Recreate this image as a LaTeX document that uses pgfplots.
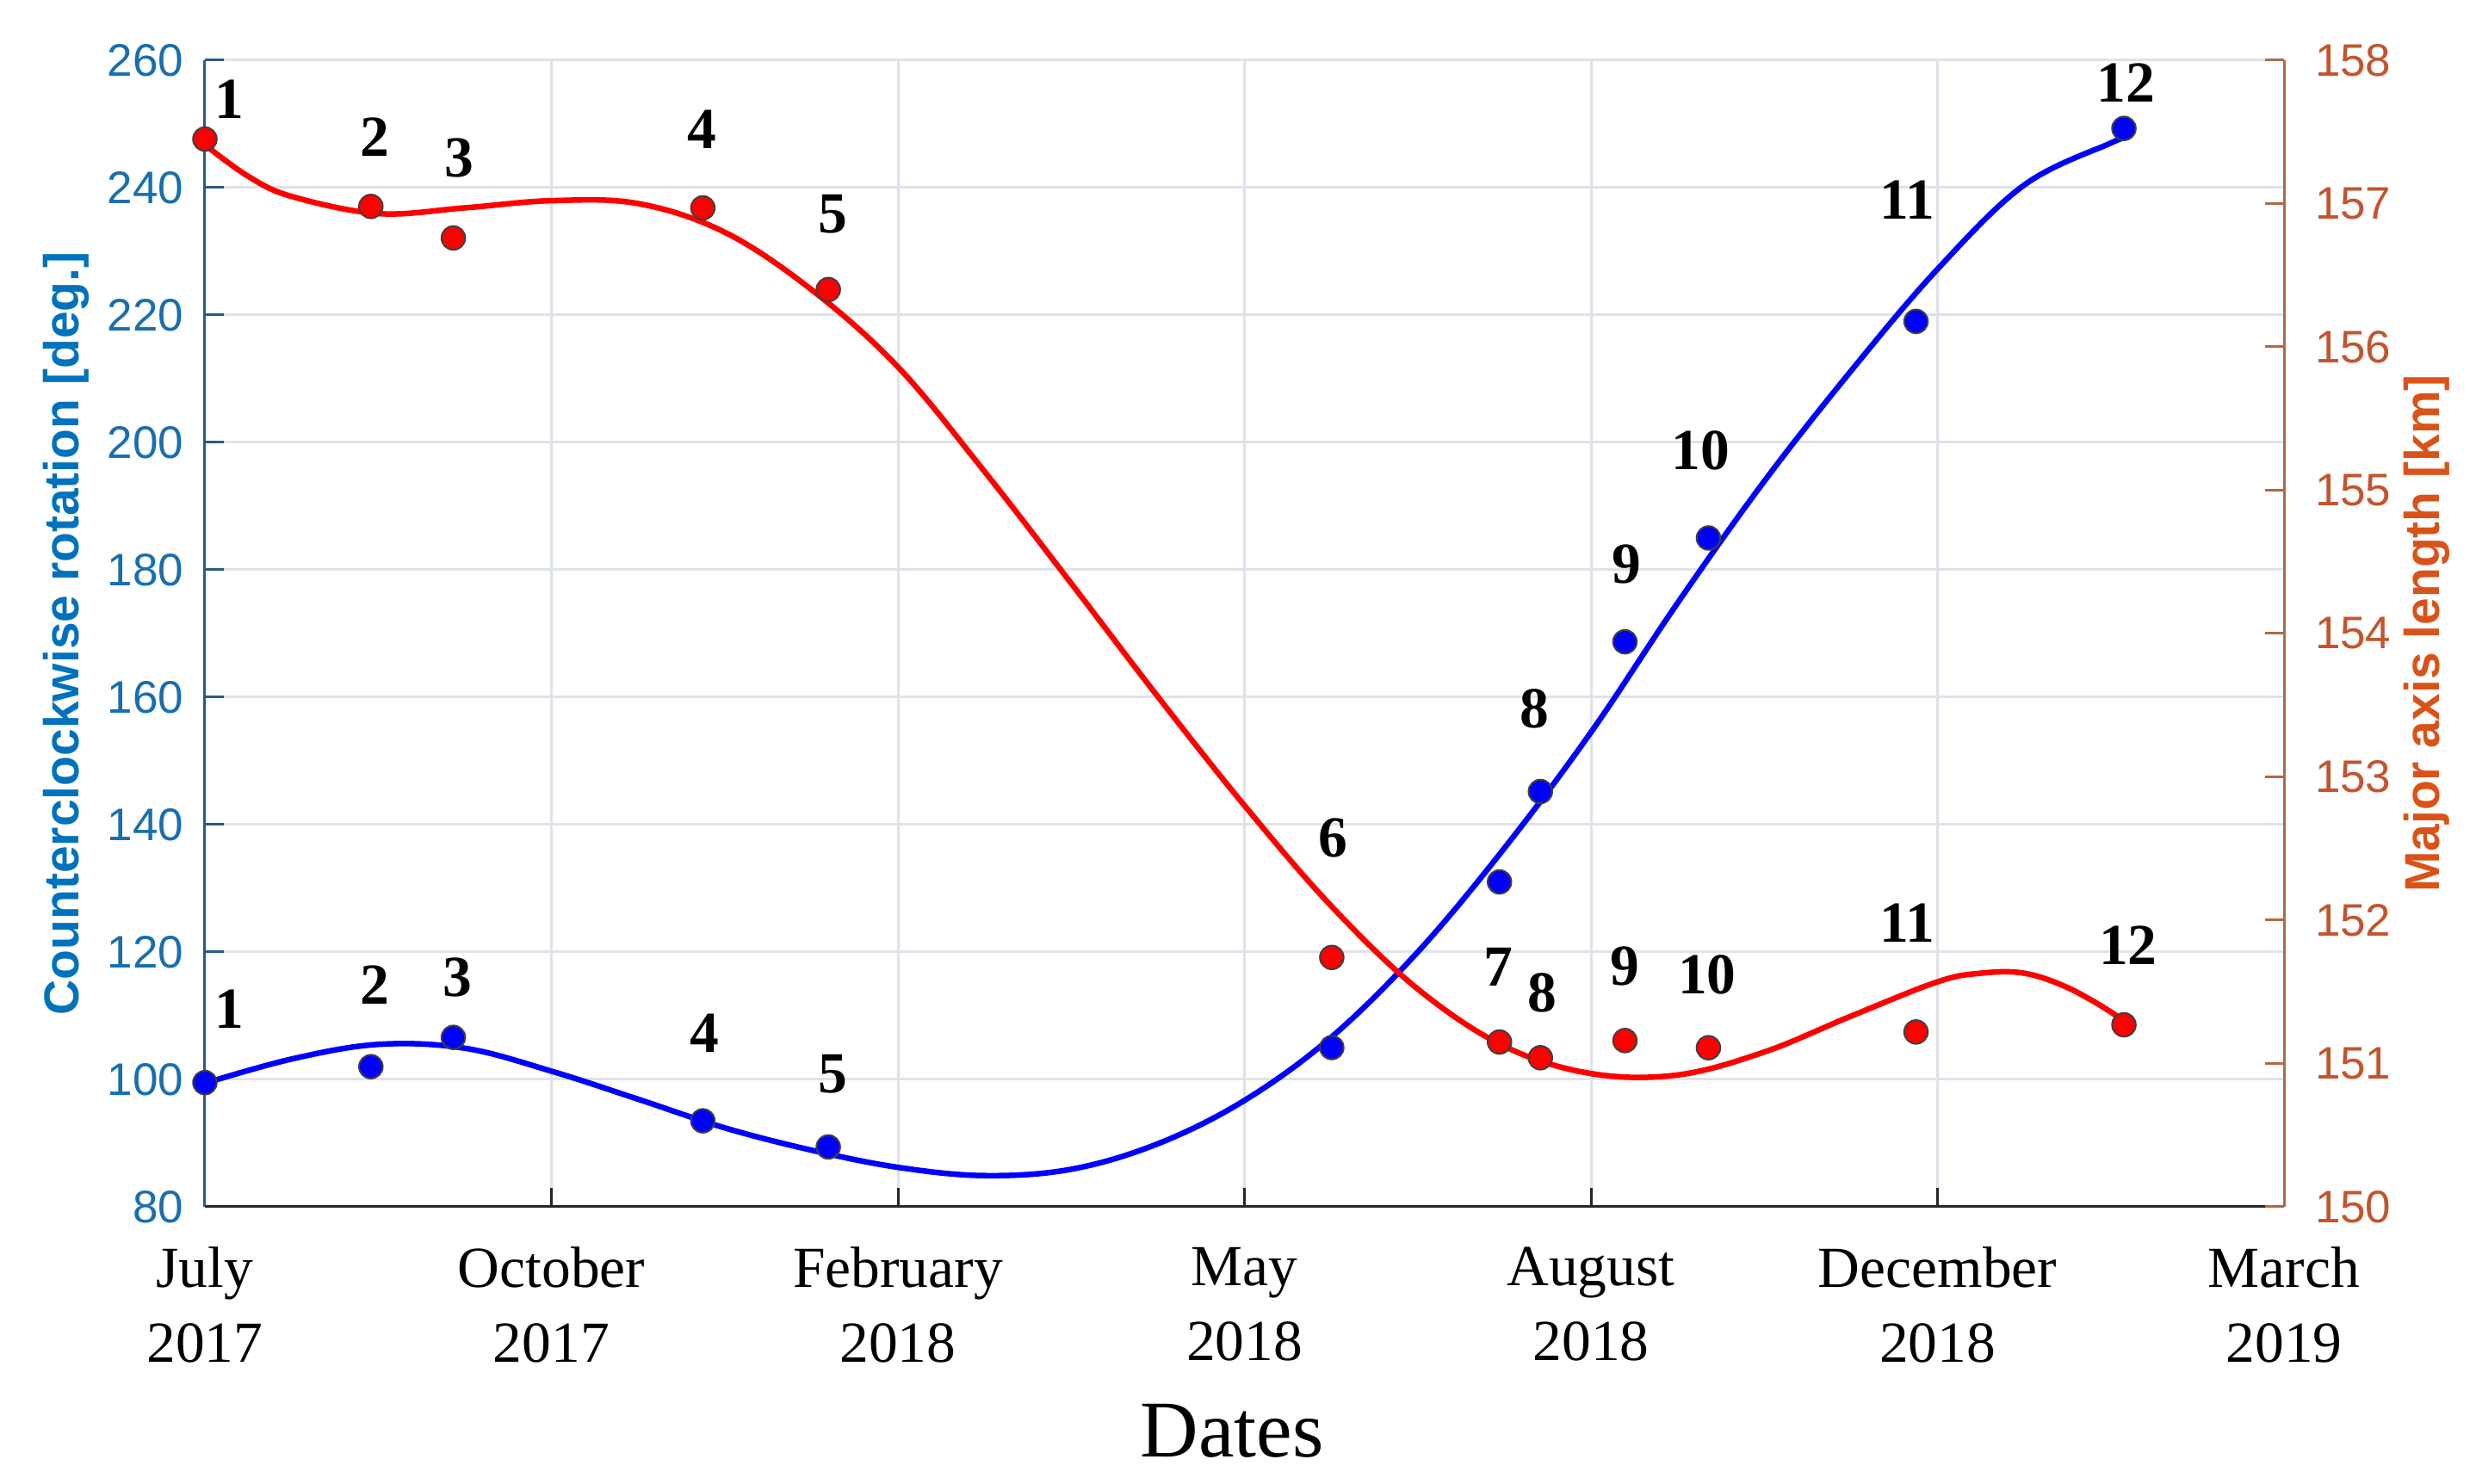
\documentclass[border=0pt]{standalone}
\usepackage{fontspec}
\setmainfont{Liberation Serif}
\setsansfont{Liberation Sans}
\usepackage{pgfplots}
\pgfplotsset{compat=1.18}
\definecolor{lblue}{RGB}{0,114,189}
\definecolor{rorange}{RGB}{217,83,25}
\definecolor{lbluetick}{RGB}{25,110,175}
\definecolor{lblueaxis}{RGB}{40,90,135}
\definecolor{rorangetick}{RGB}{195,85,45}
\definecolor{roraxis}{RGB}{175,105,70}
\definecolor{gridc}{RGB}{222,226,233}
\definecolor{mblue}{RGB}{0,0,255}
\definecolor{mred}{RGB}{255,0,0}
\definecolor{axblack}{RGB}{38,38,38}

\pgfplotstableread{
x y
0.000 99.5
0.479 102.0
0.717 106.6
1.437 93.5
1.799 89.4
3.252 105.0
3.736 131.0
3.854 145.2
4.098 168.7
4.339 185.0
4.938 219.0
5.538 249.3
}\bluepts

\pgfplotstableread{
x y
0.000 157.45
0.479 156.98
0.717 156.76
1.437 156.97
1.799 156.40
3.252 151.74
3.736 151.15
3.854 151.04
4.098 151.16
4.339 151.11
4.938 151.22
5.538 151.27
}\redpts

\pgfplotstableread{
x y
0.000 99.4
0.250 103.2
0.500 105.5
0.750 104.9
1.000 101.3
1.250 96.9
1.500 92.4
1.750 88.9
2.000 86.2
2.250 84.9
2.500 85.9
2.750 89.9
3.000 96.7
3.250 106.6
3.500 120.0
3.750 136.3
4.000 154.5
4.250 174.8
4.500 193.9
4.750 211.2
5.000 227.2
5.250 240.4
5.500 247.0
5.538 247.7
}\bluefit

\pgfplotstableread{
x y
0.000 157.41
0.125 157.19
0.250 157.05
0.500 156.93
0.750 156.97
1.000 157.02
1.250 157.00
1.500 156.80
1.750 156.40
2.000 155.86
2.250 155.13
2.500 154.35
2.750 153.56
3.000 152.80
3.250 152.10
3.500 151.52
3.750 151.12
4.000 150.93
4.250 150.92
4.500 151.08
4.750 151.33
5.000 151.57
5.125 151.63
5.250 151.63
5.375 151.53
5.500 151.36
5.538 151.28
}\redfit

\begin{document}
\begin{tikzpicture}
\begin{axis}[
  at={(0,0)}, anchor=south west,
  scale only axis, width=483pt, height=266.4pt,
  xmin=0, xmax=6, ymin=80, ymax=260,
  axis x line*=bottom, axis y line*=left,
  x axis line style={-, axblack, line width=0.6pt},
  y axis line style={-, lblueaxis, line width=0.6pt},
  xtick={0,1,2,3,4,5,6},
  xticklabels={{July\\2017},{October\\2017},{February\\2018},{May\\2018},{August\\2018},{December\\2018},{March\\2019}},
  xticklabel style={align=center, anchor=north, inner sep=0pt, yshift=-9.2pt,
    font=\fontsize{13.5}{17.4}\selectfont, text=black},
  ytick={80,100,...,260},
  yticklabel style={font=\fontsize{10.6}{12}\selectfont\sffamily, text=lbluetick, inner sep=0pt, xshift=-4.8pt},
  /pgf/number format/assume math mode=true,
  tick align=inside, major tick length=4.4pt,
  xtick style={axblack, line width=0.6pt},
  ytick style={lblueaxis, line width=0.6pt},
  grid=major, major grid style={gridc, line width=0.6pt},
  ylabel={Counterclockwise rotation [deg.]},
  ylabel style={at={(axis description cs:-0.0667,0.5)}, anchor=center, rotate=0,
    font=\bfseries\sffamily\fontsize{11.4}{13}\selectfont, text=lblue},
  xlabel={Dates},
  xlabel style={at={(axis description cs:0.494,-0.1952)}, anchor=center,
    font=\fontsize{18.7}{22}\selectfont},
  clip=false,
]
\addplot[mblue, line width=1.3pt, smooth, tension=0.6] table[x=x,y=y] {\bluefit};
\addplot[only marks, mark=*, mark size=2.75pt, mark options={fill=mblue, draw=black!75, line width=0.4pt}] table[x=x,y=y] {\bluepts};
\end{axis}
\begin{axis}[
  at={(0,0)}, anchor=south west,
  scale only axis, width=483pt, height=266.4pt,
  xmin=0, xmax=6, ymin=150, ymax=158,
  axis y line*=right, axis x line=none,
  y axis line style={-, roraxis, line width=0.6pt},
  ytick={150,151,...,158},
  yticklabel style={font=\fontsize{10.6}{12}\selectfont\sffamily, text=rorangetick, inner sep=0pt, xshift=7pt},
  /pgf/number format/assume math mode=true,
  tick align=inside, major tick length=4.4pt,
  ytick style={roraxis, line width=0.6pt},
  ylabel={Major axis length [km]},
  ylabel style={at={(axis description cs:1.0687,0.5)}, anchor=center, rotate=0,
    font=\bfseries\sffamily\fontsize{11.4}{13}\selectfont, text=rorange},
  clip=false,
]
\addplot[mred, line width=1.3pt, smooth, tension=0.6] table[x=x,y=y] {\redfit};
\addplot[only marks, mark=*, mark size=2.75pt, mark options={fill=mred, draw=black!75, line width=0.4pt}] table[x=x,y=y] {\redpts};
\begin{scope}[every node/.style={font=\bfseries\fontsize{13.5}{16}\selectfont, inner sep=0pt, anchor=center}]
% red labels
\node at (axis cs:0.071,157.729) {1};
\node at (axis cs:0.491,157.467) {2};
\node at (axis cs:0.734,157.316) {3};
\node at (axis cs:1.435,157.516) {4};
\node at (axis cs:1.813,156.929) {5};
\node at (axis cs:3.256,152.573) {6};
\node at (axis cs:3.732,151.676) {7};
\node at (axis cs:3.859,151.493) {8};
\node at (axis cs:4.098,151.676) {9};
\node at (axis cs:4.335,151.618) {10};
\node at (axis cs:4.913,151.978) {11};
\node at (axis cs:5.550,151.827) {12};
% blue labels
\node at (axis cs:0.071,151.378) {1};
\node at (axis cs:0.491,151.547) {2};
\node at (axis cs:0.728,151.600) {3};
\node at (axis cs:1.443,151.209) {4};
\node at (axis cs:1.813,150.924) {5};
\node at (axis cs:3.836,153.476) {8};
\node at (axis cs:4.102,154.484) {9};
\node at (axis cs:4.317,155.276) {10};
\node at (axis cs:4.913,157.027) {11};
\node at (axis cs:5.543,157.840) {12};
\end{scope}
\end{axis}
\pgfresetboundingbox
\path[use as bounding box] (-47.6pt,-64.4pt) rectangle (527.6pt,280.4pt);
\end{tikzpicture}
\end{document}
